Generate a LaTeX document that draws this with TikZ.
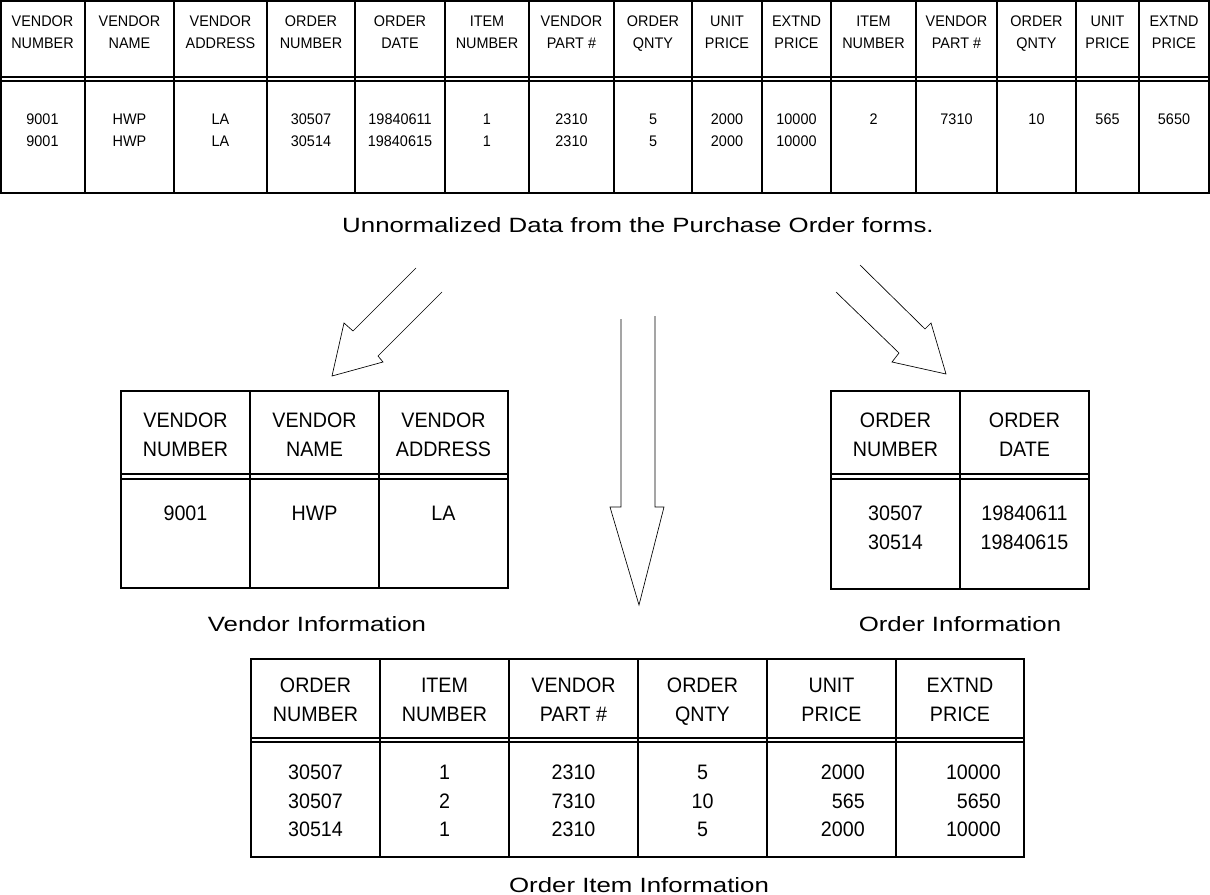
\documentclass[tikz,border=0pt]{standalone}
\usepackage{fontspec}
\setmainfont{Liberation Sans}
\newfontfamily\cellfont[FakeStretch=0.94]{Liberation Sans}
\newfontfamily\capsfont[FakeStretch=1.25]{Liberation Sans}
\usetikzlibrary{positioning}

\begin{document}
\begin{tikzpicture}[x=0.75pt, y=-0.75pt]
      % Define styles for nodes
      \tikzset{
        smallcell/.style={font=\cellfont\fontsize{11.5}{16.5}\selectfont, align=center, inner sep=0pt, text depth=0pt},
        bigcell/.style={font=\cellfont\fontsize{15.7}{21.5}\selectfont, align=center, inner sep=0pt, text depth=0pt},
        captiontext/.style={font=\capsfont\fontsize{15.5}{19}\selectfont, inner sep=0pt},
        tableline/.style={line width=0.9pt},
        blockarrow/.style={line width=0.5pt, line join=miter}
      }
      \useasboundingbox (0,0) rectangle (1210,895);

      % Unnormalized table: frame, double line and column lines
      \draw[tableline] (1,1) rectangle (1209,193);
      \draw[tableline] (1,77) -- (1209,77);
      \draw[tableline] (1,81) -- (1209,81);
      \draw[tableline] (85,1) -- (85,193);
      \draw[tableline] (174,1) -- (174,193);
      \draw[tableline] (267,1) -- (267,193);
      \draw[tableline] (355,1) -- (355,193);
      \draw[tableline] (445,1) -- (445,193);
      \draw[tableline] (529,1) -- (529,193);
      \draw[tableline] (614,1) -- (614,193);
      \draw[tableline] (692,1) -- (692,193);
      \draw[tableline] (762,1) -- (762,193);
      \draw[tableline] (831,1) -- (831,193);
      \draw[tableline] (916,1) -- (916,193);
      \draw[tableline] (997,1) -- (997,193);
      \draw[tableline] (1076,1) -- (1076,193);
      \draw[tableline] (1139,1) -- (1139,193);

      % Unnormalized table: headings
      \node[smallcell] (hdr1) at (42.5,32) {VENDOR\\NUMBER};
      \node[smallcell] (hdr2) at (129.5,32) {VENDOR\\NAME};
      \node[smallcell] (hdr3) at (220.5,32) {VENDOR\\ADDRESS};
      \node[smallcell] (hdr4) at (311,32) {ORDER\\NUMBER};
      \node[smallcell] (hdr5) at (400,32) {ORDER\\DATE};
      \node[smallcell] (hdr6) at (487,32) {ITEM\\NUMBER};
      \node[smallcell] (hdr7) at (571.5,32) {VENDOR\\PART \#};
      \node[smallcell] (hdr8) at (653,32) {ORDER\\QNTY};
      \node[smallcell] (hdr9) at (727,32) {UNIT\\PRICE};
      \node[smallcell] (hdr10) at (796.5,32) {EXTND\\PRICE};
      \node[smallcell] (hdr11) at (873.5,32) {ITEM\\NUMBER};
      \node[smallcell] (hdr12) at (956.5,32) {VENDOR\\PART \#};
      \node[smallcell] (hdr13) at (1036.5,32) {ORDER\\QNTY};
      \node[smallcell] (hdr14) at (1107.5,32) {UNIT\\PRICE};
      \node[smallcell] (hdr15) at (1174,32) {EXTND\\PRICE};

      % Unnormalized table: values
      \node[smallcell] (val1) at (42.5,130) {9001\\9001};
      \node[smallcell] (val2) at (129.5,130) {HWP\\HWP};
      \node[smallcell] (val3) at (220.5,130) {LA\\LA};
      \node[smallcell] (val4) at (311,130) {30507\\30514};
      \node[smallcell] (val5) at (400,130) {19840611\\19840615};
      \node[smallcell] (val6) at (487,130) {1\\1};
      \node[smallcell] (val7) at (571.5,130) {2310\\2310};
      \node[smallcell] (val8) at (653,130) {5\\5};
      \node[smallcell] (val9) at (727,130) {2000\\2000};
      \node[smallcell] (val10) at (796.5,130) {10000\\10000};
      \node[smallcell] (val11) at (873.5,119) {2};
      \node[smallcell] (val12) at (956.5,119) {7310};
      \node[smallcell] (val13) at (1036.5,119) {10};
      \node[smallcell] (val14) at (1107.5,119) {565};
      \node[smallcell] (val15) at (1174,119) {5650};

      \node[captiontext] (capraw) at (638,225) {Unnormalized Data from the Purchase Order forms.};

      % Arrows out of the unnormalized data
      \draw[blockarrow] (416,268) -- (353,331) -- (344,323) -- (332,376) -- (383,362) -- (378,356) -- (442,292);
      \draw[blockarrow] (621,319) -- (621,507) -- (610,507) -- (639,605) -- (664,507) -- (655,507) -- (655,316);
      \draw[blockarrow] (860,265) -- (925,329) -- (931,323) -- (946,374) -- (892,362) -- (899,353) -- (836,292);

      % Vendor table
      \draw[tableline] (121,391) rectangle (508,588);
      \draw[tableline] (121,474) -- (508,474);
      \draw[tableline] (121,479) -- (508,479);
      \draw[tableline] (250,391) -- (250,588);
      \draw[tableline] (379,391) -- (379,588);
      \node[bigcell] (vhdr1) at (185.5,435) {VENDOR\\NUMBER};
      \node[bigcell] (vhdr2) at (314.5,435) {VENDOR\\NAME};
      \node[bigcell] (vhdr3) at (443.5,435) {VENDOR\\ADDRESS};
      \node[bigcell] (vval1) at (185.5,513) {9001};
      \node[bigcell] (vval2) at (314.5,513) {HWP};
      \node[bigcell] (vval3) at (443.5,513) {LA};
      \node[captiontext] (capvendor) at (317,624) {Vendor Information};

      % Order table
      \draw[tableline] (831,391) rectangle (1089,589);
      \draw[tableline] (831,474) -- (1089,474);
      \draw[tableline] (831,479) -- (1089,479);
      \draw[tableline] (960,391) -- (960,589);
      \node[bigcell] (ohdr1) at (895.5,435) {ORDER\\NUMBER};
      \node[bigcell] (ohdr2) at (1024.5,435) {ORDER\\DATE};
      \node[bigcell] (oval1) at (895.5,527.5) {30507\\30514};
      \node[bigcell] (oval2) at (1024.5,527.5) {19840611\\19840615};
      \node[captiontext] (caporder) at (960,624) {Order Information};

      % Order item table
      \draw[tableline] (251,659) rectangle (1024,857);
      \draw[tableline] (251,738) -- (1024,738);
      \draw[tableline] (251,742) -- (1024,742);
      \draw[tableline] (380,659) -- (380,857);
      \draw[tableline] (509,659) -- (509,857);
      \draw[tableline] (638,659) -- (638,857);
      \draw[tableline] (767,659) -- (767,857);
      \draw[tableline] (896,659) -- (896,857);
      \node[bigcell] (ihdr1) at (315.5,700) {ORDER\\NUMBER};
      \node[bigcell] (ihdr2) at (444.5,700) {ITEM\\NUMBER};
      \node[bigcell] (ihdr3) at (573.5,700) {VENDOR\\PART \#};
      \node[bigcell] (ihdr4) at (702.5,700) {ORDER\\QNTY};
      \node[bigcell] (ihdr5) at (831.5,700) {UNIT\\PRICE};
      \node[bigcell] (ihdr6) at (960,700) {EXTND\\PRICE};
      \node[bigcell] (ival1) at (315.5,801) {30507\\30507\\30514};
      \node[bigcell] (ival2) at (444.5,801) {1\\2\\1};
      \node[bigcell] (ival3) at (573.5,801) {2310\\7310\\2310};
      \node[bigcell] (ival4) at (702.5,801) {5\\10\\5};
      \node[bigcell, align=right, anchor=east] (ival5) at (865,801) {2000\\565\\2000};
      \node[bigcell, align=right, anchor=east] (ival6) at (1001,801) {10000\\5650\\10000};
      \node[captiontext] (capitem) at (639,885) {Order Item Information};
    \end{tikzpicture}
\end{document}
